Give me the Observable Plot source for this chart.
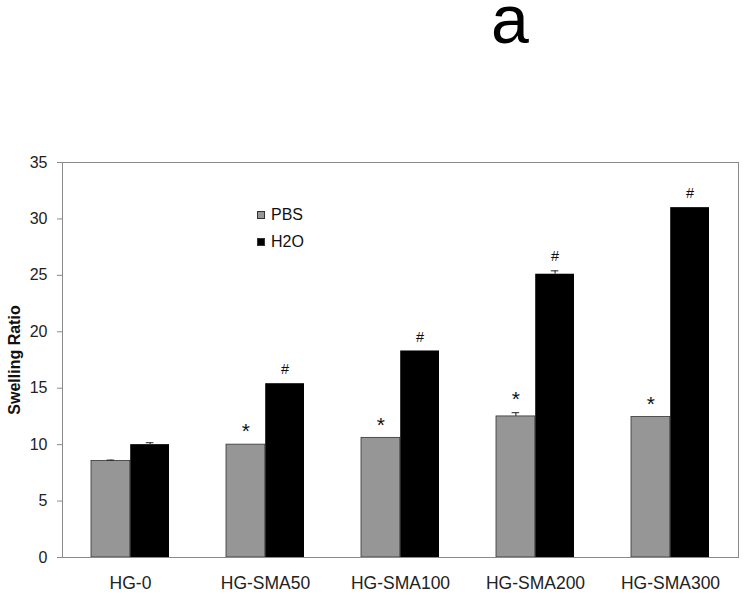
<!DOCTYPE html>
<html>
<head>
<meta charset="utf-8">
<script src="https://cdn.jsdelivr.net/npm/d3@7"></script>
<script src="https://cdn.jsdelivr.net/npm/@observablehq/plot@0.6"></script>
<style>
  html, body { margin: 0; padding: 0; background: #fff; }
  body { width: 745px; height: 595px; position: relative; font-family: "Liberation Sans", Arial, sans-serif; overflow: hidden; }
  #title { position: absolute; left: 470px; width: 80px; top: 0px; height: 39px; text-align: center; font-size: 68px; color: #000; line-height: 39px; }
  #head { height: 100px; }
  #legend { position: absolute; left: 257px; top: 201px; font-size: 16px; color: #111; }
  #legend .row { display: flex; align-items: center; height: 27px; }
  #legend .sw { width: 8px; height: 8px; border: 1px solid #333; margin-right: 6px; box-sizing: border-box; }
</style>
</head>
<body>
<div id="head"></div>
<div id="title">a</div>
<div id="chart"></div>
<div id="legend"></div>
<script>
const categories = ["HG-0", "HG-SMA50", "HG-SMA100", "HG-SMA200", "HG-SMA300"];
const seriesNames = ["PBS", "H2O"];
const pbsValues = [8.55, 10.0, 10.6, 12.5, 12.45];
const h2oValues = [10.0, 15.4, 18.3, 25.1, 31.0];
const pbsErrors = [0.08, 0, 0, 0.33, 0];
const h2oErrors = [0.17, 0, 0, 0.3, 0];
const pbsMarks = ["", "*", "*", "*", "*"];
const h2oMarks = ["", "#", "#", "#", "#"];
const yTicks = [0, 5, 10, 15, 20, 25, 30, 35];
const colors = {PBS: "#969696", H2O: "#000000"};

const W = 745, H = 495;
const mL = 62, mR = 7, mT = 62, mB = 38;
const pIn = 0.42;
const step = (W - mL - mR) / categories.length;
const bw = step * (1 - pIn);
const half = bw / 2;

const pbs = categories.map((c, i) => ({cat: c, v: pbsValues[i], e: pbsErrors[i], m: pbsMarks[i]}));
const h2o = categories.map((c, i) => ({cat: c, v: h2oValues[i], e: h2oErrors[i], m: h2oMarks[i]}));

const chart = Plot.plot({
  width: W, height: H,
  marginLeft: mL, marginRight: mR, marginTop: mT, marginBottom: mB,
  style: {fontFamily: "'Liberation Sans', Arial, sans-serif", background: "#fff", overflow: "visible"},
  x: {domain: categories, paddingInner: pIn, paddingOuter: pIn / 2, label: null},
  y: {domain: [0, 35], label: null},
  marks: [
    Plot.barY(pbs, {x: "cat", y: "v", fill: colors.PBS, stroke: "#333", strokeWidth: 0.8, insetRight: half}),
    Plot.barY(h2o, {x: "cat", y: "v", fill: colors.H2O, insetLeft: half}),
    Plot.ruleX(pbs.filter(d => d.e > 0), {x: "cat", y1: "v", y2: d => d.v + d.e, dx: -bw / 4, stroke: "#222", strokeWidth: 1}),
    Plot.tickY(pbs.filter(d => d.e > 0), {x: "cat", y: d => d.v + d.e, insetLeft: bw / 4 - 4, insetRight: 3 * bw / 4 - 4, stroke: "#222", strokeWidth: 1}),
    Plot.ruleX(h2o.filter(d => d.e > 0), {x: "cat", y1: "v", y2: d => d.v + d.e, dx: bw / 4, stroke: "#222", strokeWidth: 1}),
    Plot.tickY(h2o.filter(d => d.e > 0), {x: "cat", y: d => d.v + d.e, insetLeft: 3 * bw / 4 - 4, insetRight: bw / 4 - 4, stroke: "#222", strokeWidth: 1}),
    Plot.text(pbs.filter(d => d.m), {x: "cat", y: d => d.v + d.e, text: "m", dx: -bw / 4, dy: -13, fontSize: 21, fill: "#111", lineAnchor: "middle"}),
    Plot.text(h2o.filter(d => d.m), {x: "cat", y: d => d.v + d.e, text: "m", dx: bw / 4, dy: -14, fontSize: 14.5, fill: "#111", lineAnchor: "middle"}),
    Plot.frame({stroke: "#8a8a8a", strokeWidth: 1}),
    Plot.axisY({ticks: yTicks, tickSize: 5, tickPadding: 10, fontSize: 16, stroke: "#8a8a8a", color: "#222",
      label: "Swelling Ratio", labelAnchor: "center", labelArrow: "none", labelOffset: 54}),
    Plot.axisX({tickSize: 0, tickPadding: 19, fontSize: 17.5, color: "#222", label: null})
  ]
});
// bold y label
chart.querySelectorAll("text").forEach(t => { if (t.textContent === "Swelling Ratio") { t.setAttribute("font-weight", "bold"); t.setAttribute("font-size", "16"); t.setAttribute("fill", "#111"); } });
document.getElementById("chart").appendChild(chart);

const legend = document.getElementById("legend");
seriesNames.forEach(s => {
  const row = document.createElement("div");
  row.className = "row";
  const sw = document.createElement("span");
  sw.className = "sw";
  sw.style.background = colors[s];
  const lbl = document.createElement("span");
  lbl.textContent = s;
  row.appendChild(sw); row.appendChild(lbl);
  legend.appendChild(row);
});
</script>
</body>
</html>
